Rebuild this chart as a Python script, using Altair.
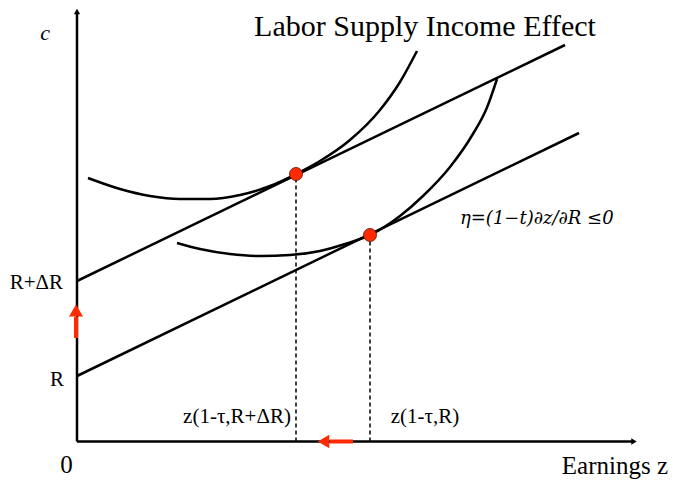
import altair as alt
import pandas as pd

# Data units = pixels measured from the axes origin in the reference picture
X_DOMAIN = [-69, 593]
Y_DOMAIN = [-38.5, 433.5]

# budget lines (intercept R+dR and R)
budget_upper_x = [0, 488]
budget_upper_y = [160.5, 396.5]
budget_lower_x = [0, 502]
budget_lower_y = [65.5, 308.5]

# indifference curves
ic_upper_x = [11, 43, 73, 103, 133, 163, 193, 219, 243, 273, 303, 323, 340]
ic_upper_y = [263.5, 252.5, 245.5, 242.5, 242.5, 246.5, 255.5, 267.5, 280.5, 301.5, 331.5, 359.5, 390.5]
ic_lower_x = [100, 123, 153, 183, 213, 243, 268, 293, 323, 346, 373, 395, 410, 420]
ic_lower_y = [198.5, 192.5, 187.5, 185.5, 186.5, 190.5, 197.5, 206.5, 225.5, 245.5, 274.5, 306, 334, 362.5]

# optimal points
opt_x = [219, 293]
opt_y = [267.5, 206.5]

# axes
axis_x = [0, 0]
axis_y = [0, 0]
axis_x2 = [0, 556]
axis_y2 = [428, 0]

# red arrows (shift of R, shift of z)
red_shaft_x = [-1, 276]
red_shaft_y = [103.5, 0]
red_shaft_x2 = [-1, 253]
red_shaft_y2 = [124.5, 0]

RED = "#ff2a00"
FONT = "Liberation Serif"

xs = alt.Scale(domain=X_DOMAIN, nice=False, zero=False)
ys = alt.Scale(domain=Y_DOMAIN, nice=False, zero=False)


def X(f="x"):
    return alt.X(f"{f}:Q", scale=xs, axis=None)


def Y(f="y"):
    return alt.Y(f"{f}:Q", scale=ys, axis=None)


budget_df = pd.DataFrame({
    "x": budget_upper_x + budget_lower_x,
    "y": budget_upper_y + budget_lower_y,
    "s": ["up"] * 2 + ["low"] * 2,
})
ic_df = pd.DataFrame({
    "x": ic_upper_x + ic_lower_x,
    "y": ic_upper_y + ic_lower_y,
    "s": ["up"] * len(ic_upper_x) + ["low"] * len(ic_lower_x),
})
opt_df = pd.DataFrame({"x": opt_x, "y": opt_y, "y0": [0, 0]})
axis_df = pd.DataFrame({"x": axis_x, "y": axis_y, "x2": axis_x2, "y2": axis_y2})
red_df = pd.DataFrame({"x": red_shaft_x, "y": red_shaft_y, "x2": red_shaft_x2, "y2": red_shaft_y2})

axes = alt.Chart(axis_df).mark_rule(color="black", strokeWidth=2.5).encode(
    x=X(), y=Y(), x2="x2:Q", y2="y2:Q")
ahead_up = alt.Chart(pd.DataFrame({"x": [0], "y": [430]})).mark_point(
    shape="triangle-up", filled=True, color="black", size=40, opacity=1).encode(x=X(), y=Y())
ahead_right = alt.Chart(pd.DataFrame({"x": [557], "y": [0]})).mark_point(
    shape="triangle-right", filled=True, color="black", size=40, opacity=1).encode(x=X(), y=Y())

budgets = alt.Chart(budget_df).mark_line(color="black", strokeWidth=2.5).encode(
    x=X(), y=Y(), detail="s:N")
ics = alt.Chart(ic_df).mark_line(color="black", strokeWidth=2.5, interpolate="monotone").encode(
    x=X(), y=Y(), detail="s:N")
dashes = alt.Chart(opt_df).mark_rule(color="black", strokeWidth=1.5, strokeDash=[4, 3]).encode(
    x=X(), y=Y("y0"), y2="y:Q")
points = alt.Chart(opt_df).mark_point(
    filled=True, color=RED, size=170, opacity=1, stroke="#5a1000", strokeWidth=0.8).encode(x=X(), y=Y())

red_shafts = alt.Chart(red_df).mark_rule(color=RED, strokeWidth=4).encode(
    x=X(), y=Y(), x2="x2:Q", y2="y2:Q")
red_head_up = alt.Chart(pd.DataFrame({"x": [-1], "y": [131]})).mark_point(
    shape="triangle-up", filled=True, color=RED, size=196, opacity=1).encode(x=X(), y=Y())
red_head_left = alt.Chart(pd.DataFrame({"x": [246.5], "y": [0]})).mark_point(
    shape="triangle-left", filled=True, color=RED, size=180, opacity=1).encode(x=X(), y=Y())


def label(text, x, y, size, align="center", baseline="alphabetic", style="normal", font=FONT):
    return alt.Chart(pd.DataFrame({"x": [x], "y": [y], "t": [text]})).mark_text(
        font=font, fontSize=size, align=align, baseline=baseline, fontStyle=style, color="black"
    ).encode(x=X(), y=Y(), text="t:N")


texts = [
    label("Labor Supply Income Effect", 348, 405.5, 30),
    label("c", -32, 408.5, 22, baseline="middle", style="italic"),
    label("R+ΔR", -14, 158.5, 21, align="right", baseline="middle"),
    label("R", -13, 61.5, 21, align="right", baseline="middle"),
    label("0", -10.5, -31, 25),
    label("z(1-τ,R+ΔR)", 160, 18.5, 21),
    label("z(1-τ,R)", 348, 18.5, 21),
    label("Earnings z", 591, -32.5, 25, align="right"),
    label("η=(1−t)∂z/∂R ≤0", 383, 222.5, 18, align="left", baseline="middle", style="italic",
          font="DejaVu Serif"),
]

chart = alt.layer(
    axes, ahead_up, ahead_right, budgets, ics, dashes, red_shafts, red_head_up, red_head_left,
    points, *texts
).properties(width=662, height=472, autosize="none", padding=0).configure_view(stroke=None)

chart.save("out.html", embed_options={"renderer": "svg", "actions": False})
